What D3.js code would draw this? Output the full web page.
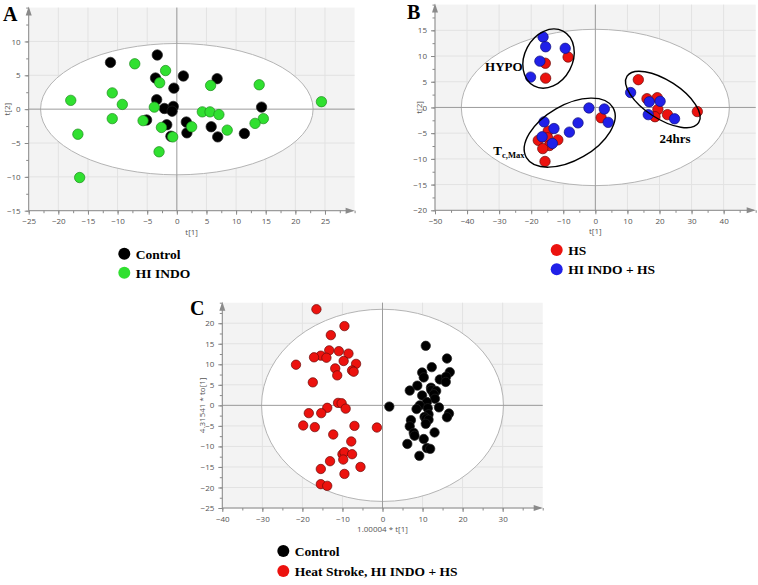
<!DOCTYPE html>
<html lang="en">
<head>
<meta charset="UTF-8">
<title>PCA score plots A, B, C</title>
<script src="https://d3js.org/d3.v7.min.js"></script>
<style>
    body { margin: 0; background: #fff; }
    svg { display: block; }
    .panel-label { font-family: "Liberation Serif", serif; font-weight: bold; font-size: 20px; }
    .legend-text { font-family: "Liberation Serif", serif; font-weight: bold; font-size: 13.5px; }
    .note { font-family: "Liberation Serif", serif; font-weight: bold; font-size: 13px; }
    .axis-title { font-family: "Open Sans", sans-serif; font-size: 8px; fill: #555; }
</style>
</head>
<body>
<svg width="758" height="585"></svg>
<script>
    // ---- panel A : Control vs HI INDO ----
    const aControl = [[-11.2,6.9],[-3.3,8.0],[-3.6,4.6],[1.1,4.9],[-0.5,3.1],[6.8,4.5],[-3.4,1.4],
        [-2.1,0.1],[-0.6,0.4],[-0.8,-0.3],[14.3,0.3],[-5.1,-1.6],[1.6,-1.9],[-1.7,-2.3],[1.7,-3.5],
        [5.8,-2.6],[6.9,-4.1],[11.4,-3.6],[-1.0,-4.0]];
    const aHiIndo = [[-7.1,6.7],[-1.9,5.7],[-2.9,3.9],[5.7,3.5],[13.9,3.6],[-10.9,2.4],[-17.9,1.3],
        [-9.2,0.7],[-3.8,0.3],[24.4,1.1],[4.3,-0.4],[5.6,-0.4],[7.1,-0.8],[-10.9,-1.4],[-5.7,-1.7],
        [14.6,-1.4],[13.2,-2.1],[2.5,-2.6],[-2.6,-2.7],[8.5,-3.1],[-16.7,-3.7],[-0.7,-4.1],[-3.0,-6.3],
        [-16.4,-10.1]];
    const aXTicks = [-25,-20,-15,-10,-5,0,5,10,15,20,25];
    const aYTicks = [-15,-10,-5,0,5,10];
    const aEllipse = [23, 9.7];

    // ---- panel B : HS vs HI INDO + HS ----
    const bHS = [[-8.5,9.8],[-15.6,8.6],[-15.5,5.7],[1.8,-2.0],[-14.7,-4.6],[-14.9,-5.9],[-11.7,-6.3],
        [-17.8,-6.4],[-14.3,-7.4],[-16.4,-8.0],[-15.7,-10.5],[13.4,5.4],[16.1,1.7],[19.3,1.9],
        [19.5,-0.4],[31.8,-0.8],[18.6,-1.8],[22.5,-1.4]];
    const bHiIndoHS = [[-16.3,13.7],[-15.5,11.8],[-9.4,11.5],[-17.3,9.0],[-20.2,5.9],[-2.0,-0.1],
        [2.8,-0.3],[4.0,-2.9],[-5.4,-3.0],[-16.0,-2.8],[-12.9,-4.1],[-8.1,-4.8],[-16.6,-5.7],
        [-13.4,-7.0],[11.0,2.9],[16.8,1.1],[20.2,1.2],[16.5,-1.4],[24.7,-2.2]];
    const bXTicks = [-50,-40,-30,-20,-10,0,10,20,30,40];
    const bYTicks = [-20,-15,-10,-5,0,5,10,15];
    const bEllipse = [41.8, 15.2];
    const bGroups = ["HYPO", "Tc,Max", "24hrs"];
    const bGroupCentres = [[-14.6,9.5],[-8.0,-4.9],[21.05,1.55]];
    const bGroupLabelAt = [[-34.4,7.0],[-31.8,-9.3],[20.0,-6.9]];

    // ---- panel C : Control vs Heat Stroke, HI INDO + HS ----
    const cControl = [[10.8,14.5],[16.1,11.4],[12.3,9.3],[16.8,8.1],[9.9,8.0],[10.3,6.8],[14.3,6.3],
        [15.9,7.0],[15.8,5.7],[8.7,4.8],[6.8,3.6],[12.1,4.3],[12.2,3.7],[13.4,3.5],[12.8,2.7],[9.9,2.4],
        [13.1,1.6],[11.1,0.8],[9.3,0.0],[1.7,-0.3],[14.1,-0.5],[11.3,-0.7],[8.5,-0.9],[16.6,-2.0],
        [16.1,-2.9],[11.5,-2.2],[10.5,-2.8],[10.9,-3.2],[7.1,-3.6],[11.5,-3.5],[10.8,-4.5],[6.8,-5.1],
        [7.8,-6.7],[13.0,-6.6],[8.0,-7.4],[10.3,-8.2],[6.2,-9.4],[11.1,-10.4],[11.9,-10.6],[9.2,-12.3]];
    const cHeatStroke = [[-16.5,23.4],[-9.5,19.3],[-12.9,17.1],[-13.3,13.4],[-10.9,13.2],[-8.5,12.6],
        [-15.4,12.1],[-14.0,11.6],[-17.1,11.7],[-9.7,10.8],[-6.6,10.1],[-21.6,9.9],[-11.8,9.0],
        [-7.6,8.5],[-7.2,8.2],[-11.3,7.3],[-17.4,5.6],[-11.1,0.6],[-10.2,0.5],[-13.8,-0.6],[-9.2,-0.8],
        [-18.4,-1.9],[-15.3,-1.9],[-19.8,-4.9],[-16.9,-5.3],[-7.0,-5.0],[-1.4,-5.4],[-12.3,-7.1],
        [-7.8,-8.8],[-10.0,-11.9],[-9.5,-11.4],[-7.6,-11.9],[-9.8,-13.2],[-13.1,-13.6],[-5.5,-15.0],
        [-15.4,-15.5],[-9.5,-16.7],[-15.4,-19.2],[-13.8,-19.6]];
    const cXTicks = [-40,-30,-20,-10,0,10,20,30];
    const cYTicks = [-25,-20,-15,-10,-5,0,5,10,15,20];
    const cEllipse = [30.2, 23.4];

    const svg = d3.select("svg");

    const colors = {
        black: {fill: "#000", stroke: "#222"},
        green: {fill: "#30e030", stroke: "#1c8c1c"},
        red: {fill: "#ec120e", stroke: "#6a0a08"},
        blue: {fill: "#2020e8", stroke: "#10107a"}
    };

    function drawPanel(p) {
        const x = d3.scaleLinear().domain(p.xDomain).range(p.xRange);
        const y = d3.scaleLinear().domain(p.yDomain).range(p.yRange);
        const [left, right] = p.xRange;
        const [bottom, top] = p.yRange;
        const g = svg.append("g");

        // grey plot background + grid
        g.append("rect")
            .attr("x", left).attr("y", top)
            .attr("width", right - left).attr("height", bottom - top)
            .attr("fill", "#f3f3f3");
        g.selectAll(null).data(p.xTicks).join("line")
            .attr("x1", d => x(d)).attr("x2", d => x(d))
            .attr("y1", top).attr("y2", bottom)
            .attr("stroke", "#e2e2e2");
        g.selectAll(null).data(p.yTicks).join("line")
            .attr("y1", d => y(d)).attr("y2", d => y(d))
            .attr("x1", left).attr("x2", right)
            .attr("stroke", "#e2e2e2");

        // Hotelling ellipse
        g.append("ellipse")
            .attr("cx", x(0)).attr("cy", y(0))
            .attr("rx", x(p.ellipse[0]) - x(0))
            .attr("ry", y(0) - y(p.ellipse[1]))
            .attr("fill", "#fff")
            .attr("stroke", "#b4b4b4")
            .attr("stroke-width", 1);

        // zero lines
        g.append("line").attr("x1", left).attr("x2", right)
            .attr("y1", y(0)).attr("y2", y(0)).attr("stroke", "#9c9c9c");
        g.append("line").attr("y1", top).attr("y2", bottom)
            .attr("x1", x(0)).attr("x2", x(0)).attr("stroke", "#9c9c9c");

        // axes
        const styleAxis = sel => {
            sel.attr("color", "#8a8a8a")
                .attr("font-family", "Open Sans, sans-serif")
                .attr("font-size", 8);
            sel.select(".domain").remove();
            sel.selectAll("text").attr("fill", "#555");
        };
        g.append("g").attr("transform", `translate(0,${bottom})`)
            .call(d3.axisBottom(x).tickValues(d3.range(p.xDomain[0], p.xDomain[1] + 0.01, p.xMinor))
                .tickSize(2.5).tickFormat(""))
            .call(styleAxis);
        g.append("g").attr("transform", `translate(0,${bottom})`)
            .call(d3.axisBottom(x).tickValues(p.xTicks).tickSize(4).tickPadding(4))
            .call(styleAxis);
        g.append("g").attr("transform", `translate(${left},0)`)
            .call(d3.axisLeft(y).tickValues(d3.range(p.yDomain[0], p.yDomain[1] + 0.01, p.yMinor))
                .tickSize(2.5).tickFormat(""))
            .call(styleAxis);
        g.append("g").attr("transform", `translate(${left},0)`)
            .call(d3.axisLeft(y).tickValues(p.yTicks).tickSize(4).tickPadding(4))
            .call(styleAxis);

        // axis lines with arrow heads
        g.append("line").attr("x1", left).attr("x2", right - 2)
            .attr("y1", bottom).attr("y2", bottom).attr("stroke", "#8a8a8a");
        g.append("line").attr("x1", left).attr("x2", left)
            .attr("y1", bottom).attr("y2", top + 2).attr("stroke", "#8a8a8a");
        g.append("path")
            .attr("d", `M${right},${bottom}L${right - 9},${bottom - 3}L${right - 9},${bottom + 3}Z`)
            .attr("fill", "#8a8a8a");
        g.append("path")
            .attr("d", `M${left},${top - 1}L${left - 3},${top + 8}L${left + 3},${top + 8}Z`)
            .attr("fill", "#8a8a8a");

        // axis titles
        g.append("text").attr("class", "axis-title")
            .attr("x", (left + right) / 2).attr("y", bottom + 24)
            .attr("text-anchor", "middle").text(p.xTitle);
        g.append("text").attr("class", "axis-title")
            .attr("transform", `translate(${p.yTitleX},${(top + bottom) / 2}) rotate(-90)`)
            .attr("text-anchor", "middle").attr("dy", "0.35em").text(p.yTitle);

        // scores
        p.series.forEach(s => {
            g.selectAll(null).data(s.data).join("circle")
                .attr("cx", d => x(d[0])).attr("cy", d => y(d[1]))
                .attr("r", p.r)
                .attr("fill", s.color.fill)
                .attr("stroke", s.color.stroke)
                .attr("stroke-width", 0.7);
        });

        // panel letter
        svg.append("text").attr("class", "panel-label")
            .attr("x", p.letterAt[0]).attr("y", p.letterAt[1]).text(p.letter);

        // legend
        const lg = svg.append("g").attr("transform", `translate(${p.legendAt[0]},${p.legendAt[1]})`);
        p.series.forEach((s, i) => {
            lg.append("circle").attr("cx", 0).attr("cy", i * p.legendStep).attr("r", 6)
                .attr("fill", s.color.fill);
            lg.append("text").attr("class", "legend-text")
                .attr("x", 11.5).attr("y", i * p.legendStep + 5).text(s.name);
        });

        return {x, y, g};
    }

    drawPanel({
        letter: "A", letterAt: [3, 21],
        xDomain: [-25, 30], yDomain: [-15, 15],
        xRange: [28.7, 354.6], yRange: [210.7, 7.6],
        xTicks: aXTicks, yTicks: aYTicks, xMinor: 2.5, yMinor: 2.5,
        ellipse: aEllipse, r: 5.2,
        xTitle: "t[1]", yTitle: "t[2]", yTitleX: 7,
        series: [
            {name: "Control", data: aControl, color: colors.black},
            {name: "HI INDO", data: aHiIndo, color: colors.green}
        ],
        legendAt: [124.3, 253.7], legendStep: 19
    });

    const b = drawPanel({
        letter: "B", letterAt: [407, 19],
        xDomain: [-50, 50], yDomain: [-20, 20],
        xRange: [435, 755.7], yRange: [210.3, 4.6],
        xTicks: bXTicks, yTicks: bYTicks, xMinor: 5, yMinor: 2.5,
        ellipse: bEllipse, r: 5.2,
        xTitle: "t[1]", yTitle: "t[2]", yTitleX: 419,
        series: [
            {name: "HS", data: bHS, color: colors.red},
            {name: "HI INDO + HS", data: bHiIndoHS, color: colors.blue}
        ],
        legendAt: [556.7, 250], legendStep: 19.3
    });

    // group rings in B (semi-axes in px, tilt in degrees)
    const ringShape = [[31, 24, -62], [50, 27.5, -30], [42.7, 19.1, 33]];
    b.g.selectAll(null).data(bGroupCentres).join("ellipse")
        .attr("transform", (d, i) => `translate(${b.x(d[0])},${b.y(d[1])}) rotate(${ringShape[i][2]})`)
        .attr("rx", (d, i) => ringShape[i][0])
        .attr("ry", (d, i) => ringShape[i][1])
        .attr("fill", "none")
        .attr("stroke", "#000")
        .attr("stroke-width", 1.4);
    bGroups.forEach((name, i) => {
        const t = b.g.append("text").attr("class", "note")
            .attr("x", b.x(bGroupLabelAt[i][0])).attr("y", b.y(bGroupLabelAt[i][1]));
        if (name === "Tc,Max") {
            t.append("tspan").text("T");
            t.append("tspan").attr("font-size", "8.5px").attr("dy", 3).text("c,Max");
        } else {
            t.text(name);
        }
    });

    drawPanel({
        letter: "C", letterAt: [190, 315],
        xDomain: [-40, 40], yDomain: [-25, 25],
        xRange: [222.3, 542.7], yRange: [508, 302.7],
        xTicks: cXTicks, yTicks: cYTicks, xMinor: 5, yMinor: 2.5,
        ellipse: cEllipse, r: 4.7,
        xTitle: "1.00004 * t[1]", yTitle: "4.31541 * to[1]", yTitleX: 201.7,
        series: [
            {name: "Control", data: cControl, color: colors.black},
            {name: "Heat Stroke, HI INDO + HS", data: cHeatStroke, color: colors.red}
        ],
        legendAt: [283.3, 551], legendStep: 20
    });
</script>
</body>
</html>
